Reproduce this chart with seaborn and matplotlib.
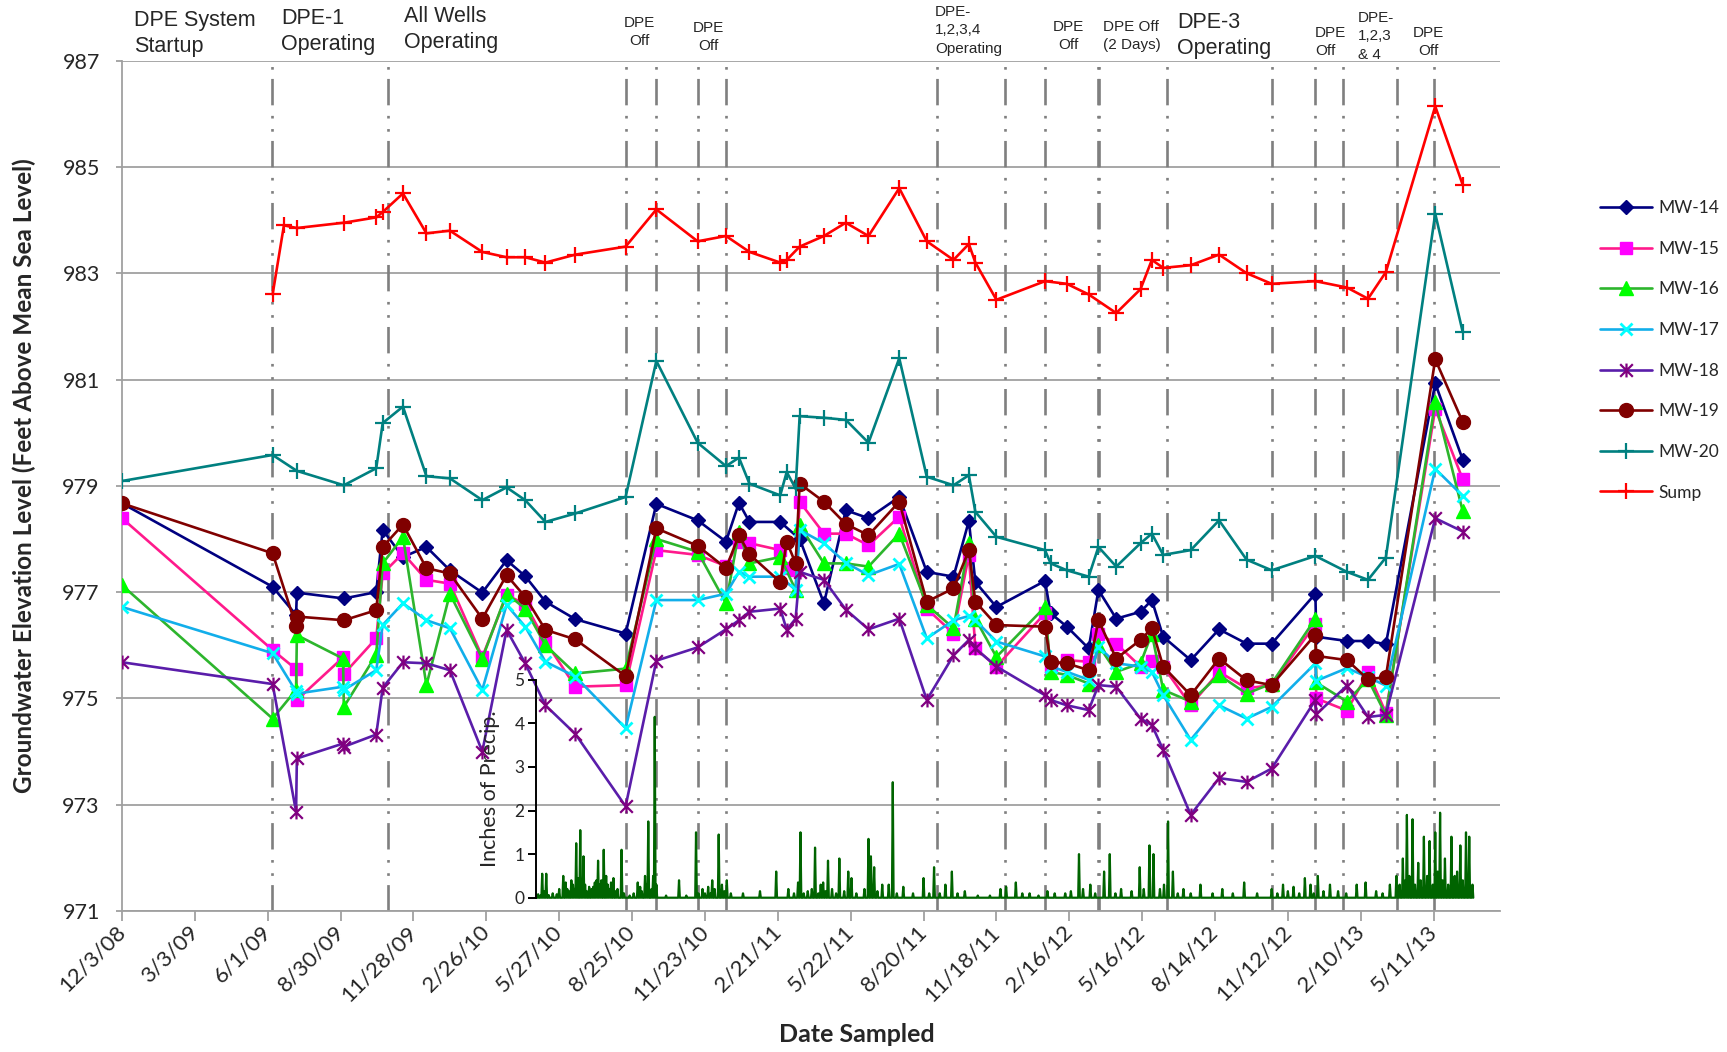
import numpy as np
import pandas as pd
import matplotlib
matplotlib.use("Agg")
import matplotlib.pyplot as plt
import matplotlib.dates as mdates
from matplotlib.path import Path
import seaborn as sns

# ---------------- sampling data ----------------
dates = [
    "2008-12-03", "2009-06-07", "2009-06-21", "2009-07-06", "2009-07-07", "2009-09-02", "2009-09-03",
    "2009-10-13", "2009-10-21", "2009-11-15", "2009-12-14",
    "2010-01-12", "2010-02-21", "2010-03-23", "2010-04-15", "2010-05-10", "2010-06-16", "2010-08-17",
    "2010-09-24", "2010-11-14", "2010-12-19",
    "2011-01-04", "2011-01-17", "2011-02-24", "2011-03-04", "2011-03-15", "2011-03-20", "2011-04-19",
    "2011-05-16", "2011-06-13", "2011-07-21", "2011-08-24", "2011-09-26", "2011-10-15", "2011-10-23",
    "2011-11-18",
    "2012-01-17", "2012-01-24", "2012-02-13", "2012-03-11", "2012-03-23", "2012-04-14", "2012-05-14",
    "2012-05-28", "2012-06-11", "2012-07-15", "2012-08-19", "2012-09-22", "2012-10-23", "2012-12-16",
    "2012-12-17",
    "2013-01-24", "2013-02-19", "2013-03-13", "2013-05-13", "2013-06-16",
]
N = None
mw14 = [978.67, 977.10, N, 976.57, 976.99, N, 976.88, 977.00, 978.17, 977.66, 977.85,
        977.41, 976.99, 977.60, 977.30, 976.82, 976.49, 976.22, 978.66, 978.35, 977.95,
        978.68, 978.32, 978.32, N, N, 978.00, 976.79, 978.54, 978.39, 978.79, 977.38, 977.29,
        978.34, 977.19, 976.72,
        977.21, 976.60, 976.35, 975.94, 977.04, 976.50, 976.63, 976.85, 976.16, 975.72, 976.30,
        976.03, 976.03, 976.97, 976.16,
        976.08, 976.08, 976.02, 980.93, 979.49]
mw15 = [978.39, 975.91, N, 975.55, 974.97, 975.77, 975.46, 976.13, 977.35, 977.73, 977.23,
        977.16, 975.78, 976.94, 976.78, 976.07, 975.22, 975.25, 977.79, 977.70, 977.49,
        977.95, 977.92, 977.79, 977.45, 977.41, 978.70, 978.10, 978.10, 977.88, 978.42, 976.69,
        976.22, 977.70, 975.94, 975.60,
        976.60, 975.60, 975.72, 975.69, 976.22, 976.03, 975.60, 975.70, 975.60, 974.87, 975.50,
        975.19, 975.25, 976.40, 975.00,
        974.77, 975.49, 974.73, 980.45, 979.12]
mw16 = [977.13, 974.62, N, 975.16, 976.19, 975.75, 974.84, 975.82, 977.54, 978.04, 975.25,
        976.97, 975.75, 976.97, 976.69, 976.00, 975.47, 975.56, 978.00, 977.76, 976.79,
        978.13, 977.54, 977.66, N, 977.04, 978.26, 977.54, 977.54, 977.48, 978.10, 976.76,
        976.32, 977.92, 976.50, 975.78,
        976.72, 975.50, 975.44, 975.28, 976.00, 975.50, 975.66, 976.22, 975.16, 974.94, 975.44,
        975.09, 975.28, 976.50, 975.30,
        974.94, 975.36, 974.69, 980.58, 978.52]
mw17 = [976.72, 975.85, N, 975.13, 975.09, 975.22, 975.16, 975.53, 976.38, 976.79, 976.47,
        976.32, 975.16, 976.76, 976.35, 975.69, 975.41, 974.44, 976.85, 976.85, 976.97,
        977.38, 977.29, 977.29, N, 977.04, 978.17, 977.92, 977.55, 977.32, 977.53, 976.13,
        976.47, 976.55, 976.47, 976.07,
        975.79, 975.60, 975.50, 975.35, 975.97, 975.66, 975.60, 975.50, 975.06, 974.22, 974.87,
        974.62, 974.84, 975.66, 975.33,
        975.57, 975.40, 975.24, 979.32, 978.81]
mw18 = [975.68, 975.27, N, 972.87, 973.87, 974.15, 974.09, 974.32, 975.20, 975.68, 975.66,
        975.53, 974.00, 976.29, 975.66, 974.87, 974.33, 972.97, 975.71, 975.96, 976.30,
        976.47, 976.63, 976.69, 976.29, 976.50, 977.38, 977.23, 976.67, 976.30, 976.50, 974.97,
        975.81, 976.10, 975.94, 975.60,
        975.06, 974.97, 974.87, 974.78, 975.25, 975.22, 974.62, 974.50, 974.03, 972.81, 973.50,
        973.43, 973.68, 974.97, 974.70,
        975.24, 974.65, 974.69, 978.39, 978.14]
mw19 = [978.67, 977.73, N, 976.36, 976.54, N, 976.47, 976.66, 977.85, 978.27, 977.45,
        977.35, 976.50, 977.32, 976.91, 976.29, 976.11, 975.42, 978.20, 977.87, 977.45,
        978.07, 977.71, 977.19, 977.95, 977.54, 979.04, 978.70, 978.28, 978.07, 978.70, 976.82,
        977.07, 977.79, 976.82, 976.38,
        976.35, 975.69, 975.66, 975.53, 976.47, 975.75, 976.10, 976.32, 975.60, 975.06, 975.75,
        975.34, 975.25, 976.20, 975.80,
        975.72, 975.36, 975.40, 981.38, 980.20]
mw20 = [979.09, 979.58, N, N, 979.28, N, 979.01, 979.33, 980.18, 980.49, 979.18,
        979.14, 978.73, 978.97, 978.73, 978.32, 978.48, 978.79, 981.35, 979.81, 979.37,
        979.53, 979.04, 978.82, 979.26, 978.95, 980.31, 980.28, 980.24, 979.81, 981.40, 979.17,
        979.01, 979.20, 978.51, 978.04,
        977.79, 977.54, 977.41, 977.29, 977.85, 977.48, 977.92, 978.10, 977.70, 977.79, 978.35,
        977.61, 977.41, 977.68, N,
        977.38, 977.23, 977.65, 984.12, 981.89]
sump = [N, 982.60, 983.90, N, 983.85, N, 983.95, 984.05, 984.15, 984.50, 983.75,
        983.80, 983.40, 983.30, 983.30, 983.20, 983.35, 983.50, 984.20, 983.60, 983.70,
        N, 983.40, 983.20, 983.25, N, 983.50, 983.70, 983.95, 983.70, 984.60, 983.60,
        983.25, 983.55, 983.20, 982.50,
        982.85, N, 982.80, 982.60, N, 982.25, 982.70, 983.25, 983.10, 983.15, 983.35,
        983.00, 982.80, 982.85, N,
        982.73, 982.52, 983.02, 986.14, 984.66]

# ---------------- daily precipitation (days since start, inches) ----------------
precip_start = "2010-04-29"
precip_end = "2013-06-29"
precip_day = [2, 5, 7, 9, 12, 15, 20, 25, 28, 33,
              36, 38, 40, 43, 45, 47, 49, 51, 54, 56,
              58, 60, 62, 65, 68, 70, 72, 74, 76, 78,
              80, 83, 86, 88, 90, 92, 95, 98, 100, 105,
              108, 115, 120, 125, 128, 130, 134, 136, 138, 142,
              144, 146, 148, 160, 176, 185, 197, 200, 205, 208,
              212, 215, 217, 220, 225, 229, 232, 235, 240, 255,
              276, 296, 311, 318, 323, 326, 330, 335, 340, 344,
              348, 351, 354, 357, 360, 365, 370, 374, 380, 385,
              389, 395, 405, 410, 413, 417, 421, 427, 435, 440,
              445, 453, 465, 478, 485, 491, 498, 505, 513, 520,
              529, 545, 560, 573, 580, 592, 600, 609, 620, 631,
              640, 653, 660, 670, 675, 684, 690, 701, 708, 715,
              722, 735, 745, 750, 757, 762, 770, 775, 780, 786,
              792, 799, 808, 820, 835, 847, 860, 874, 890, 908,
              915, 922, 928, 935, 942, 949, 956, 960, 965, 972,
              980, 990, 1000, 1013, 1024, 1037, 1045, 1054, 1062, 1066,
              1070, 1073, 1075, 1078, 1082, 1085, 1089, 1092, 1096, 1100,
              1103, 1107, 1110, 1113, 1116, 1119, 1122, 1126, 1130, 1134,
              1137, 1141, 1144, 1148, 1152, 1156]
precip_in = [0.08, 0.05, 0.55, 0.15, 0.55, 0.06, 0.10, 0.08, 0.20, 0.50,
             0.35, 0.20, 0.15, 0.40, 0.30, 0.20, 1.25, 0.45, 1.55, 0.20,
             0.95, 0.30, 0.15, 0.25, 0.20, 0.25, 0.35, 0.40, 0.85, 0.30,
             0.40, 1.10, 0.50, 0.30, 0.20, 0.35, 0.45, 0.15, 0.20, 1.10,
             0.10, 0.05, 0.10, 0.35, 0.25, 0.15, 0.50, 0.30, 1.75, 0.20,
             0.50, 4.15, 0.30, 0.05, 0.40, 0.05, 1.50, 0.10, 0.20, 0.10,
             0.25, 0.10, 0.40, 0.20, 1.45, 0.30, 0.15, 0.40, 0.10, 0.10,
             0.15, 0.60, 0.20, 0.10, 0.35, 1.50, 0.10, 0.15, 0.20, 1.15,
             0.10, 0.30, 0.35, 0.15, 0.85, 0.20, 0.10, 0.90, 0.15, 0.60,
             0.45, 0.10, 0.20, 1.35, 0.95, 0.70, 0.15, 0.30, 0.30, 2.65,
             0.10, 0.25, 0.10, 0.45, 0.10, 0.70, 0.10, 0.30, 0.60, 0.10,
             0.15, 0.05, 0.05, 0.20, 0.25, 0.35, 0.10, 0.10, 0.05, 0.15,
             0.10, 0.10, 0.15, 1.00, 0.20, 0.30, 0.10, 0.60, 1.00, 0.10,
             0.20, 0.15, 0.70, 0.20, 1.20, 1.00, 0.20, 0.30, 1.75, 0.60,
             0.10, 0.20, 0.10, 0.30, 0.10, 0.20, 0.10, 0.35, 0.10, 0.20,
             0.10, 0.30, 0.15, 0.25, 0.10, 0.45, 0.30, 0.10, 0.50, 0.15,
             0.30, 0.15, 0.10, 0.30, 0.35, 0.15, 0.10, 0.30, 0.50, 0.30,
             0.90, 0.40, 1.90, 0.50, 1.80, 0.30, 0.80, 0.40, 1.40, 0.50,
             1.30, 0.30, 1.50, 0.60, 1.95, 0.40, 0.90, 0.30, 1.40, 0.50,
             0.60, 1.20, 0.40, 1.50, 1.40, 0.30]

tick_start = "2008-12-03"
tick_count = 19
event_dates = ["2009-06-06", "2009-10-27", "2010-08-17", "2010-09-24", "2010-11-15", "2010-12-19",
               "2011-09-06", "2011-11-29", "2012-01-17", "2012-03-22", "2012-03-24", "2012-06-16",
               "2012-10-24", "2012-12-16", "2013-01-19", "2013-03-27", "2013-05-11"]

# (text, left/centre x px, top y px, size, alignment)
annotations = [
    ("DPE System\nStartup", 134, 10, 15.5, "left"),
    ("DPE-1\nOperating", 281, 8, 15.5, "left"),
    ("All Wells\nOperating", 404, 6, 15.5, "left"),
    ("DPE\nOff", 639, 16, 11, "center"),
    ("DPE\nOff", 708, 21, 11, "center"),
    ("DPE-\n1,2,3,4\nOperating", 935, 5, 11, "left"),
    ("DPE\nOff", 1068, 20, 11, "center"),
    ("DPE Off\n(2 Days)", 1103, 20, 11, "left"),
    ("DPE-3\nOperating", 1177, 12, 15.5, "left"),
    ("DPE\nOff", 1315, 26, 11, "left"),
    ("DPE-\n1,2,3\n& 4", 1358, 11, 11, "left"),
    ("DPE\nOff", 1428, 26, 11, "center"),
]

# ---------------- styling ----------------
sns.set_style("white")
plt.rcParams["font.family"] = ["Lato", "DejaVu Sans"]

W, H = 1727, 1052
fig = plt.figure(figsize=(W / 100, H / 100), dpi=100)
ax = fig.add_axes([122 / W, 1 - 911 / H, (1500 - 122) / W, (911 - 60.6) / H])

asterisk = Path([(-0.5, -0.5), (0.5, 0.5), (-0.5, 0.5), (0.5, -0.5), (0, -0.55), (0, 0.55)],
                [Path.MOVETO, Path.LINETO, Path.MOVETO, Path.LINETO, Path.MOVETO, Path.LINETO])

series = [
    ("MW-14", mw14, dict(color="#000080", marker="D", markersize=7, markerfacecolor="#000080",
                         markeredgecolor="#000080", markeredgewidth=1)),
    ("MW-15", mw15, dict(color="#FF1A8C", marker="s", markersize=9, markerfacecolor="#FF00FF",
                         markeredgecolor="#FF00FF", markeredgewidth=1)),
    ("MW-16", mw16, dict(color="#2DB52D", marker="^", markersize=10, markerfacecolor="#00FF00",
                         markeredgecolor="#00FF00", markeredgewidth=1)),
    ("MW-17", mw17, dict(color="#12AEEA", marker="x", markersize=9, markerfacecolor="none",
                         markeredgecolor="#00FFFF", markeredgewidth=2)),
    ("MW-18", mw18, dict(color="#5A1DAA", marker=asterisk, markersize=10, markerfacecolor="none",
                         markeredgecolor="#800080", markeredgewidth=1.6)),
    ("MW-19", mw19, dict(color="#800000", marker="o", markersize=10, markerfacecolor="#800000",
                         markeredgecolor="#800000", markeredgewidth=1)),
    ("MW-20", mw20, dict(color="#008080", marker="+", markersize=11, markerfacecolor="none",
                         markeredgecolor="#008080", markeredgewidth=1.6)),
    ("Sump", sump, dict(color="#FF0000", marker="+", markersize=11, markerfacecolor="none",
                        markeredgecolor="#FF0000", markeredgewidth=1.6)),
]

date_index = pd.to_datetime(dates)
for i, (name, vals, style) in enumerate(series):
    df = pd.DataFrame({"date": date_index, "level": pd.array(vals, dtype="Float64")}).dropna()
    df["level"] = df["level"].astype(float)
    sns.lineplot(data=df, x="date", y="level", ax=ax, label=name, linewidth=1.9,
                 zorder=3 + i, **style)

# operation-change markers
for d in event_dates:
    ax.axvline(pd.Timestamp(d), color="#7F7F7F", linewidth=1.9,
               linestyle=(0, (10, 3.5, 1, 4, 1, 4)), zorder=1.5)

ax.set_xlim(pd.Timestamp("2008-12-03"), pd.Timestamp("2013-08-01"))
ax.set_ylim(971, 987)
ax.set_yticks(np.arange(971, 988, 2))
ax.set_axisbelow(True)
ax.yaxis.grid(True, color="#A0A0A0", linewidth=1.3)
ax.xaxis.grid(False)
for s in ("top", "right"):
    ax.spines[s].set_visible(False)
for s in ("left", "bottom"):
    ax.spines[s].set_color("#A0A0A0")
    ax.spines[s].set_linewidth(1.3)

ticks = pd.date_range(tick_start, periods=tick_count, freq="90D")
ax.set_xticks(ticks)
ax.set_xticklabels([f"{t.month}/{t.day}/{t:%y}" for t in ticks], rotation=45, ha="right",
                   va="center", rotation_mode="anchor", fontsize=16)
ax.tick_params(axis="x", length=7, width=1.3, color="#A0A0A0", pad=6, direction="out", bottom=True)
ax.tick_params(axis="y", length=4, width=1.3, color="#A0A0A0", pad=12, labelsize=15.5, left=True)
ax.set_xlabel("")
ax.set_ylabel("")

ax.legend(loc="upper left", bbox_to_anchor=(1600 / W, 1 - 200 / H), bbox_transform=fig.transFigure,
          frameon=False, fontsize=12.5, handlelength=3.0, handletextpad=0.35, labelspacing=1.42,
          borderaxespad=0, borderpad=0)

# ---------------- precipitation inset ----------------
p0 = mdates.date2num(pd.Timestamp("2010-04-28"))
p1 = mdates.date2num(pd.Timestamp("2013-06-30"))
ins = ax.inset_axes([p0, 971.25, p1 - p0, 4.1], transform=ax.transData, zorder=20)
ins.patch.set_alpha(0)

days = pd.date_range(precip_start, precip_end, freq="D")
rain = np.zeros(len(days))
rain[np.array(precip_day)] = precip_in
pdf = pd.DataFrame({"date": days, "inches": rain})
sns.lineplot(data=pdf, x="date", y="inches", ax=ins, color="#006400", linewidth=1.6, clip_on=False)
ins.set_xlim(pd.Timestamp("2010-04-28"), pd.Timestamp("2013-06-30"))
ins.set_ylim(0, 5)
ins.set_xticks([])
ins.set_yticks(range(6))
ins.tick_params(axis="y", length=6, width=1.4, color="black", labelsize=12.5, pad=2, left=True)
for s in ("top", "right", "bottom"):
    ins.spines[s].set_visible(False)
ins.spines["left"].set_color("black")
ins.spines["left"].set_linewidth(1.4)
ins.set_xlabel("")
ins.set_ylabel("")
ins.grid(False)
ins.text(-0.049, 0.5, "Inches of Precip.", transform=ins.transAxes, rotation=90,
         ha="center", va="center", fontsize=15.5)

# ---------------- titles and annotations ----------------
fig.text(24 / W, 1 - 476 / H, "Groundwater Elevation Level (Feet Above Mean Sea Level)",
         rotation=90, ha="center", va="center", fontsize=17.5, fontweight="bold")
fig.text(857 / W, 1 - 1035 / H, "Date Sampled", ha="center", va="center",
         fontsize=18, fontweight="bold")

for text, x, y, size, align in annotations:
    ls = 1.3 if size > 12 else 1.4
    fig.text(x / W, 1 - y / H, text, ha=align, va="top", multialignment=align,
             fontsize=size, family="Liberation Sans", linespacing=ls)

fig.savefig("out.png", dpi=100)
